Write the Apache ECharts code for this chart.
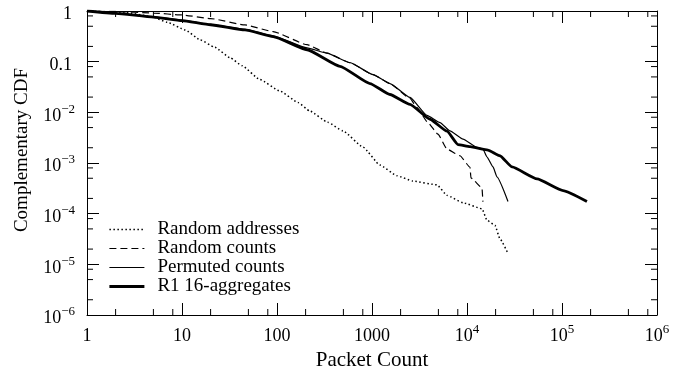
<!DOCTYPE html>
<html>
<head>
<meta charset="utf-8">
<script src="https://cdn.jsdelivr.net/npm/echarts@6/dist/echarts.min.js"></script>
<style>
  html, body { margin: 0; padding: 0; background: #fff; }
  #chart { width: 692px; height: 376px; }
</style>
</head>
<body>
<div id="chart"></div>
<script>
// Complementary CDF of per-address packet counts, log-log.
const randomAddresses = [
  [1, 1], [2.5, 0.94], [4.83, 0.773], [7, 0.6], [10.8, 0.424], [15.5, 0.27], [22.2, 0.192],
  [32, 0.12], [42.8, 0.0835], [66, 0.0444], [108, 0.0262], [166, 0.0157],
  [222, 0.0106], [340, 0.0064], [495, 0.0043], [804, 0.00206], [1213, 0.00091], [1833, 0.00056],
  [2700, 0.00044], [4830, 0.00037], [6160, 0.00023], [9080, 0.000164],
  [14380, 0.000125], [16250, 0.000074], [19700, 0.000059], [22200, 0.000032],
  [27000, 0.0000164]
];
const randomCounts = [
  [1, 1], [2, 0.98], [5, 0.91], [10, 0.835], [20, 0.71], [46, 0.531], [91, 0.393], [207, 0.216],
  [336, 0.148], [587, 0.0955], [1025, 0.0556], [1546, 0.037], [2512, 0.0188],
  [2980, 0.01237], [3880, 0.00628], [4950, 0.0037], [6160, 0.00188],
  [8440, 0.00139], [10760, 0.000824], [11000, 0.000508], [14380, 0.000324],
  [14700, 0.000172]
];
const permutedCounts = [
  [1, 1], [2, 0.9], [5, 0.77], [10, 0.66], [20, 0.545], [46, 0.434], [91, 0.323], [207, 0.188],
  [336, 0.147], [587, 0.0955], [1025, 0.0556], [1546, 0.037], [2512, 0.0197],
  [3790, 0.00873], [5200, 0.00628], [6620, 0.0043], [9080, 0.00296],
  [12740, 0.00203], [14700, 0.00188], [16250, 0.00131], [18800, 0.000835],
  [20700, 0.00053], [27000, 0.000174]
];
const r1Aggregates = [
  [1, 1], [2, 0.9], [5, 0.76], [10, 0.645], [20, 0.535], [46, 0.424], [91, 0.313], [207, 0.172],
  [460, 0.081], [952, 0.037], [1546, 0.0225], [2512, 0.01436], [4080, 0.0073],
  [6160, 0.00424], [8040, 0.00231], [10760, 0.0021], [16630, 0.0018],
  [22200, 0.00139], [29800, 0.000835], [54600, 0.000486], [102500, 0.000286],
  [183000, 0.000174]
];

const seriesNames = ['Random addresses', 'Random counts', 'Permuted counts', 'R1 16-aggregates'];

// minor tick mantissas inside each decade
const minorMantissas = [2, 5, 8];
const xDecades = [1, 10, 100, 1000, 1e4, 1e5];
const yDecades = [1e-6, 1e-5, 1e-4, 1e-3, 1e-2, 0.1];
const xMinor = [];
xDecades.forEach(d => minorMantissas.forEach(m => xMinor.push([d * m, 0.5])));
const yMinor = [];
yDecades.forEach(d => minorMantissas.forEach(m => yMinor.push([10, d * m])));

const FONT = 'Liberation Serif, Times New Roman, serif';
const MINUS = '\u2212';

// line styles per series: [width, dash]
const styles = [
  [1.5, [1.5, 2.5]],
  [1.2, [7, 4]],
  [1.2, 'solid'],
  [2.8, 'solid']
];

function expLabel(v, plainUpTo) {
  const e = Math.round(Math.log10(v));
  if (e >= 0 && e <= plainUpTo) return '{b|' + String(Math.round(Math.pow(10, e))) + '}';
  if (e === -1) return '{p|0.1}';
  if (e === 0) return '{p|1}';
  return '{b|10}{s|' + (e < 0 ? MINUS + (-e) : e) + '}';
}

const richBase = {
  b: { fontFamily: FONT, fontSize: 18, color: '#000', padding: [7, 0, 0, 0] },
  p: { fontFamily: FONT, fontSize: 18, color: '#000', padding: [7, 3, 0, 0] },
  s: { fontFamily: FONT, fontSize: 13, color: '#000', padding: [0, 0, 6, 0] }
};

const frameAxis = {
  type: 'log', logBase: 10, splitNumber: 6,
  axisLine: { show: true, onZero: false, lineStyle: { color: '#000', width: 1 } },
  axisTick: { show: true, inside: true, length: 12, lineStyle: { color: '#000', width: 1 } },
  splitLine: { show: false },
  minorTick: { show: false }
};

function minorTickSeries(data, isX) {
  return {
    type: 'custom', silent: true, z: 5, clip: false,
    data: data,
    renderItem: function (params, api) {
      const cs = params.coordSys;
      const p = api.coord([api.value(0), api.value(1)]);
      const L = 6;
      const st = { stroke: '#000', lineWidth: 1 };
      if (isX) {
        return { type: 'group', children: [
          { type: 'line', shape: { x1: p[0], y1: cs.y + cs.height, x2: p[0], y2: cs.y + cs.height - L }, style: st },
          { type: 'line', shape: { x1: p[0], y1: cs.y, x2: p[0], y2: cs.y + L }, style: st }
        ]};
      }
      return { type: 'group', children: [
        { type: 'line', shape: { x1: cs.x, y1: p[1], x2: cs.x + L, y2: p[1] }, style: st },
        { type: 'line', shape: { x1: cs.x + cs.width, y1: p[1], x2: cs.x + cs.width - L, y2: p[1] }, style: st }
      ]};
    }
  };
}

function lineSeries(i, data) {
  return {
    name: seriesNames[i], type: 'line', data: data, symbol: 'none',
    smooth: 0.15, smoothMonotone: 'x',
    xAxisIndex: 0, yAxisIndex: 0,
    lineStyle: { color: '#000', width: styles[i][0], type: styles[i][1] },
    itemStyle: { color: '#000' },
    emphasis: { disabled: true },
    z: 3
  };
}

const chart = echarts.init(document.getElementById('chart'), null, { renderer: 'canvas' });
chart.setOption({
  animation: false,
  backgroundColor: '#fff',
  grid: { left: 87, right: 35, top: 11, bottom: 59, containLabel: false },
  xAxis: [
    Object.assign({}, frameAxis, {
      position: 'bottom', min: 1, max: 1e6,
      axisLabel: { margin: 5, formatter: v => expLabel(v, 3), rich: richBase },
      name: 'Packet Count', nameLocation: 'middle', nameGap: 35,
      nameTextStyle: { fontFamily: FONT, fontSize: 21, color: '#000' }
    }),
    Object.assign({}, frameAxis, {
      position: 'top', min: 1, max: 1e6, axisLabel: { show: false }
    })
  ],
  yAxis: [
    Object.assign({}, frameAxis, {
      position: 'left', min: 1e-6, max: 1,
      axisLabel: { margin: 12, formatter: v => expLabel(v, -99), rich: richBase }
    }),
    Object.assign({}, frameAxis, {
      position: 'right', min: 1e-6, max: 1, axisLabel: { show: false }
    })
  ],
  legend: {
    data: seriesNames.map((n, i) => ({
      name: n,
      lineStyle: { width: styles[i][0], type: styles[i][1], color: '#000' }
    })),
    orient: 'vertical', left: 108, top: 220, padding: 0,
    itemWidth: 35, itemHeight: 12, itemGap: 0,
    selectedMode: false,
    itemStyle: { opacity: 0, borderWidth: 0 },
    textStyle: { fontFamily: FONT, fontSize: 19, color: '#000', lineHeight: 19, padding: [0, 0, 0, 8] }
  },
  graphic: [{
    type: 'text', x: 22, y: 150, rotation: Math.PI / 2,
    style: { text: 'Complementary CDF', fontFamily: FONT, fontSize: 19, fill: '#000',
             align: 'center', verticalAlign: 'middle' }
  }],
  series: [
    lineSeries(0, randomAddresses),
    lineSeries(1, randomCounts),
    lineSeries(2, permutedCounts),
    lineSeries(3, r1Aggregates),
    minorTickSeries(xMinor, true),
    minorTickSeries(yMinor, false)
  ]
});
</script>
</body>
</html>
